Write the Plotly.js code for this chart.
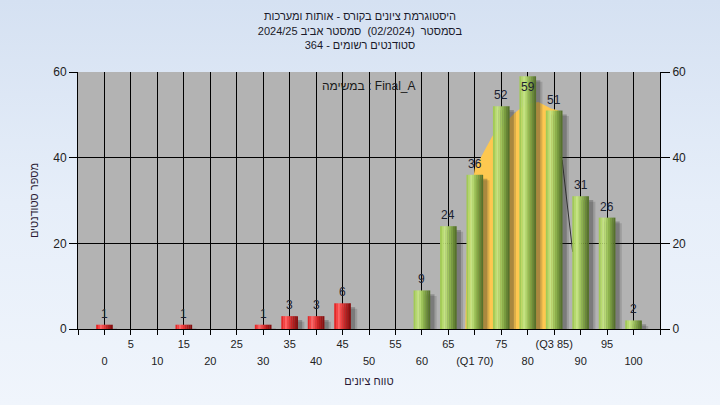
<!DOCTYPE html>
<html>
<head>
<meta charset="utf-8">
<script src="https://cdn.plot.ly/plotly-3.0.1.min.js"></script>
<style>
  html, body { margin:0; padding:0; }
  body { width:720px; height:405px; background: linear-gradient(to bottom, #d5e1f2 0%, #e6eef9 50%, #f0f5fc 100%); }
  #chart { width:720px; height:405px; }
</style>
</head>
<body>
<div id="chart"></div>
<script>
// ---- data ----
const failBins   = [0, 15, 30, 35, 40, 45];
const failCounts = [1, 1, 1, 3, 3, 6];
const passBins   = [60, 65, 70, 75, 80, 85, 90, 95, 100];
const passCounts = [9, 24, 36, 52, 59, 51, 31, 26, 2];

const row1Vals = [5, 15, 25, 35, 45, 55, 65, 75, 85, 95];
const row1Text = ['5', '15', '25', '35', '45', '55', '65', '75', '(Q3 85)', '95'];
const row2Vals = [0, 10, 20, 30, 40, 50, 60, 70, 80, 90, 100];
const row2Text = ['0', '10', '20', '30', '40', '50', '60', '(Q1 70)', '80', '90', '100'];

const yTicks = [0, 20, 40, 60];

// interquartile band (orange) and tail line
const iqrX = [68.2, 68.6, 70.0, 73.3, 77.6, 79.6, 82.0, 84.4, 85.8];
const iqrY = [0, 26, 37.5, 45, 50.5, 52.5, 53, 51.5, 51];
const tailX = [86.5, 88.5];
const tailY = [39.5, 18];

const titleLines = ['היסטוגרמת ציונים בקורס - אותות ומערכות',
                    'בסמסטר  (02/2024)  סמסטר אביב 2024/25',
                    'סטודנטים רשומים - 364'];
const taskLabel = 'במשימה : Final_A';
const xTitle = 'טווח ציונים';
const yTitle = 'מספר סטודנטים';

// ---- styles ----
const FONT = 'Liberation Sans, Arial, sans-serif';
const W = 3.15;
const greenStops = ['#a2ca56','#b6da6c','#c5e384','#b6d872','#9fc45c','#8bb04c','#799c40','#678636','#56722c'];
const redStops   = ['#e42828','#f54242','#ff6464','#f44848','#e03434','#c92626','#b21c1c','#9c1616','#861010'];

function barSet(xs, ys, stops) {
  const out = [];
  out.push({type:'bar', x:xs, y:ys, base:-1.3, offset:-W/2+1.2, width:W,
            marker:{color:'rgba(40,40,40,0.16)', line:{width:0}}, hoverinfo:'skip', showlegend:false});
  out.push({type:'bar', x:xs, y:ys, base:-0.9, offset:-W/2+0.8, width:W,
            marker:{color:'rgba(40,40,40,0.28)', line:{width:0}}, hoverinfo:'skip', showlegend:false});
  const n = stops.length, sw = W / n;
  stops.forEach((c, i) => {
    out.push({type:'bar', x:xs, y:ys, offset:-W/2 + i*sw, width: sw + (i < n-1 ? 0.03 : 0),
              marker:{color:c, line:{width:0}}, hoverinfo:'skip', showlegend:false});
  });
  return out;
}

const traces = [].concat(barSet(failBins, failCounts, redStops), barSet(passBins, passCounts, greenStops));
// invisible trace to activate secondary axes
traces.push({type:'scatter', x:[0], y:[0], xaxis:'x2', yaxis:'y2', mode:'none', hoverinfo:'skip', showlegend:false});

const labelCap = 54;
const annotations = [];
[[failBins, failCounts], [passBins, passCounts]].forEach(([xs, ys]) => {
  xs.forEach((x, i) => annotations.push({
    x: x, y: Math.min(ys[i], labelCap), xref:'x', yref:'y', yshift: 11, showarrow:false,
    text: String(ys[i]), font:{family:FONT, size:12, color:'#1c2230'}, yanchor:'middle'
  }));
});
annotations.push({xref:'paper', yref:'paper', x:0.5, y:0.945, showarrow:false, text:taskLabel,
                  font:{family:FONT, size:12, color:'#1a1a1a'}, yanchor:'middle'});

let iqrPath = 'M ' + iqrX[0] + ',0';
iqrX.forEach((x, i) => { iqrPath += ' L ' + x + ',' + iqrY[i]; });
iqrPath += ' L ' + iqrX[iqrX.length-1] + ',0 Z';

const shapes = [
  {type:'path', xref:'x', yref:'y', path:iqrPath, fillcolor:'#fec850', line:{width:0}, layer:'between'},
  {type:'line', xref:'x', yref:'y', x0:tailX[0], y0:tailY[0], x1:tailX[1], y1:tailY[1],
   line:{color:'#333333', width:1}, layer:'between'}
];

const layout = {
  width:720, height:405,
  paper_bgcolor:'rgba(0,0,0,0)', plot_bgcolor:'#b3b3b3',
  margin:{l:78, r:60, t:72, b:76},
  font:{family:FONT, size:11, color:'#222222'},
  barmode:'overlay', showlegend:false,
  title:{text:titleLines.join('<br>'), x:0.5, xanchor:'center', y:0.95, yanchor:'top',
         font:{family:FONT, size:11, color:'#1a1a2a'}},
  xaxis:{range:[-5,105], tickvals:row1Vals.concat(row2Vals), ticktext:row1Text.concat(row2Vals.map(()=>'')),
         ticks:'outside', ticklen:5, tickcolor:'#000', showgrid:true, gridcolor:'#000', gridwidth:1,
         showline:true, linecolor:'#000', linewidth:1, zeroline:false,
         minor:{tick0:-5, dtick:5, ticks:'outside', ticklen:5, tickcolor:'#000', showgrid:false},
         tickfont:{family:FONT, size:11, color:'#222'},
         title:{text:xTitle, standoff:28, font:{family:FONT, size:11, color:'#2a1a34'}}},
  xaxis2:{range:[-5,105], overlaying:'x', anchor:'y', side:'bottom', tickvals:row2Vals, ticktext:row2Text,
          ticks:'outside', ticklen:22, tickcolor:'rgba(0,0,0,0)', showgrid:false, showline:false, zeroline:false,
          tickfont:{family:FONT, size:11, color:'#222'}},
  yaxis:{range:[0,60], tickvals:yTicks, ticks:'outside', ticklen:8, tickcolor:'#000',
         showgrid:true, gridcolor:'#000', gridwidth:1, showline:true, linecolor:'#000', linewidth:1, zeroline:false,
         tickfont:{family:FONT, size:12, color:'#222'},
         title:{text:yTitle, standoff:12, font:{family:FONT, size:11, color:'#2a1a34'}}},
  yaxis2:{range:[0,60], overlaying:'y', side:'right', anchor:'x', tickvals:yTicks, ticks:'outside', ticklen:9,
          tickcolor:'#000', showgrid:false, showline:true, linecolor:'#000', linewidth:1, zeroline:false,
          tickfont:{family:FONT, size:12, color:'#222'}},
  annotations:annotations,
  shapes:shapes
};

Plotly.newPlot('chart', traces, layout, {displayModeBar:false, staticPlot:true});
</script>
</body>
</html>
